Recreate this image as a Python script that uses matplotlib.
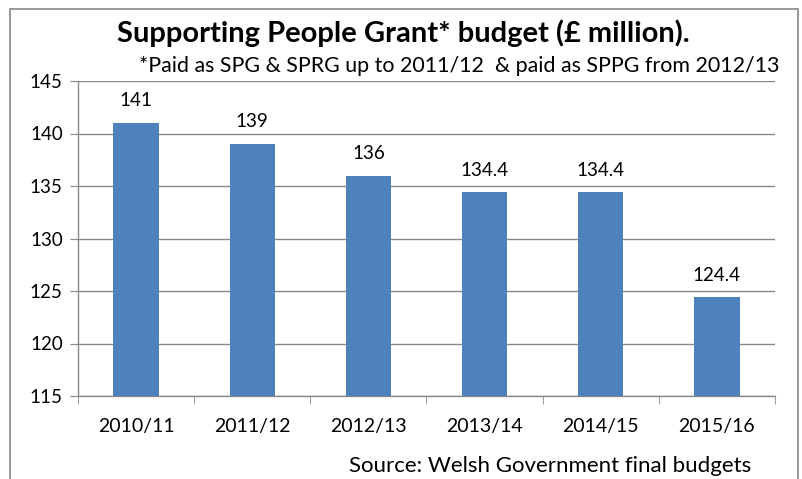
import matplotlib.pyplot as plt
import matplotlib as mpl
from matplotlib.patches import Rectangle

mpl.rcParams['font.family'] = ['Lato', 'DejaVu Sans']

years = ['2010/11', '2011/12', '2012/13', '2013/14', '2014/15', '2015/16']
budget = [141, 139, 136, 134.4, 134.4, 124.4]
value_labels = ['141', '139', '136', '134.4', '134.4', '124.4']
yticks = [115, 120, 125, 130, 135, 140, 145]

fig = plt.figure(figsize=(8.03, 4.79), dpi=100)
ax = fig.add_axes([78 / 803, 1 - 396 / 479, (775 - 78) / 803, (396 - 81) / 479])

# outer chart frame (bottom edge runs off the image)
fig.patches.append(Rectangle((10 / 803, -0.05), (798 - 10) / 803, 1.05 - 9 / 479,
                             transform=fig.transFigure, fill=False,
                             edgecolor='#888888', linewidth=1.2))

x = range(len(years))
ax.bar(x, budget, width=0.39, color='#4F81BD', zorder=3)
for i, v in enumerate(budget):
    ax.text(i, v + 1.3, value_labels[i], ha='center', va='bottom', fontsize=13.5)

ax.set_ylim(115, 145)
ax.set_xlim(-0.5, len(years) - 0.5)
ax.set_yticks(yticks)
ax.set_xticks(x)
ax.set_xticklabels(years, fontsize=14)
ax.tick_params(axis='y', labelsize=13.5, length=6, color='#888888', pad=5)
ax.tick_params(axis='x', length=0, pad=16)
# minor ticks at category boundaries
ax.set_xticks([i - 0.5 for i in range(len(years) + 1)], minor=True)
ax.tick_params(axis='x', which='minor', length=6, color='#888888', direction='out')
ax.grid(axis='y', color='#888888', linewidth=1.0, zorder=0)
for s in ['top', 'right']:
    ax.spines[s].set_visible(False)
for s in ['left', 'bottom']:
    ax.spines[s].set_color('#888888')
    ax.spines[s].set_linewidth(1.0)

fig.text(403 / 803, 1 - 33 / 479, 'Supporting People Grant* budget (\u00a3 million).',
         ha='center', va='center', fontsize=21, fontweight='bold')
fig.text(459 / 803, 1 - 66 / 479,
         '*Paid as SPG & SPRG up to 2011/12  & paid as SPPG from 2012/13',
         ha='center', va='center', fontsize=15.4)
fig.text(550 / 803, 1 - 466 / 479, 'Source: Welsh Government final budgets',
         ha='center', va='center', fontsize=16)

plt.savefig('out.png', dpi=100)
